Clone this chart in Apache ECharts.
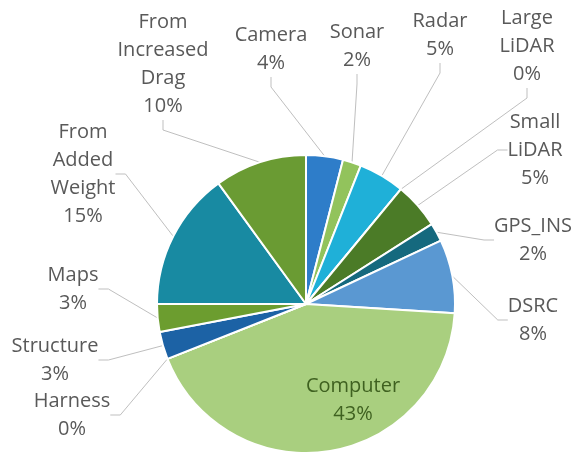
<!DOCTYPE html>
<html>
<head>
<meta charset="utf-8">
<script src="https://cdn.jsdelivr.net/npm/echarts@6/dist/echarts.min.js"></script>
<style>
  html, body { margin: 0; padding: 0; background: #ffffff; }
  #chart { width: 574px; height: 456px; }
</style>
</head>
<body>
<div id="chart"></div>
<script>
// Cost breakdown, clockwise from 12 o'clock
const categories = [
  'Camera', 'Sonar', 'Radar', 'Large\nLiDAR', 'Small\nLiDAR', 'GPS_INS', 'DSRC',
  'Computer', 'Harness', 'Structure', 'Maps', 'From\nAdded\nWeight', 'From\nIncreased\nDrag'
];
const shares = [4, 2, 5, 0, 5, 2, 8, 43, 0, 3, 3, 15, 10];
const sliceColors = [
  '#2e7dc9', '#92c35c', '#1fb0d8', '#3f7a26', '#4b7b27', '#15697e', '#5a98d2',
  '#a9cf7f', '#2e7dc9', '#1c62a5', '#6c9d2f', '#188aa2', '#6a9b33'
];

// Where each label block sits (centre point, px); Computer sits inside its slice
const labelSpots = [
  [271, 49], [357, 46], [440, 35], [527, 46], [535, 150], [533, 240], [533, 320],
  [353, 400], [72, 415], [55, 360], [73, 289], [83, 174], [163, 64]
];

const chart = echarts.init(document.getElementById('chart'), null, { renderer: 'canvas' });

const data = categories.map((name, i) => {
  const item = {
    name: name,
    value: shares[i],
    itemStyle: { color: sliceColors[i] }
  };
  if (name === 'Computer') {
    item.label = { color: '#3f6120' };
    item.labelLine = { show: false };
  }
  return item;
});

chart.setOption({
  animation: false,
  backgroundColor: '#ffffff',
  series: [{
    type: 'pie',
    center: [306, 304],
    radius: 149,
    startAngle: 90,
    clockwise: true,
    avoidLabelOverlap: false,
    itemStyle: { borderColor: '#ffffff', borderWidth: 2 },
    label: {
      show: true,
      position: 'outside',
      formatter: p => p.name + '\n' + p.value + '%',
      fontFamily: '"Open Sans", sans-serif',
      fontSize: 20,
      lineHeight: 28,
      color: '#595959',
      align: 'center'
    },
    labelLine: {
      show: true,
      length: 10,
      length2: 10,
      lineStyle: { color: '#bfbfbf', width: 1 }
    },
    labelLayout: function (params) {
      const spot = labelSpots[params.dataIndex];
      return { x: spot[0], y: spot[1], align: 'center', verticalAlign: 'middle' };
    },
    emphasis: { disabled: true },
    data: data
  }]
});
</script>
</body>
</html>
